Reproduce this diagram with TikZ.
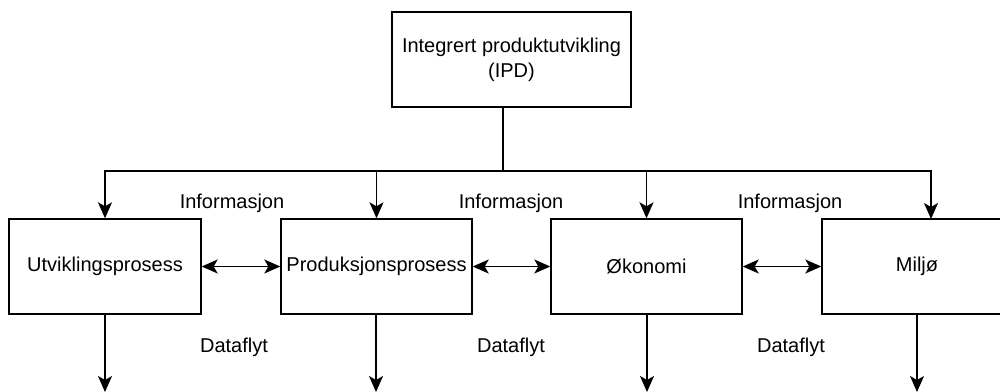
\documentclass[tikz,border=0pt]{standalone}
\usepackage{fontspec}
\setmainfont{Liberation Sans}
\usetikzlibrary{arrows.meta}
\tikzset{
  tipk/.tip={Stealth[length=16pt,width=14pt,inset=4pt]},
}
\begin{document}
\begin{tikzpicture}[x=1pt,y=-1pt,
  every node/.style={font=\fontsize{20}{25}\selectfont},
  box/.style={draw, line width=1.4pt, rectangle, minimum height=95pt, inner sep=0pt, align=center},
  link/.style={line width=1.4pt, -tipk},
  both/.style={line width=1.4pt, tipk-tipk},
  lbl/.style={inner sep=0pt}]
\useasboundingbox (0,0) rectangle (1000,391);
\clip (0,0) rectangle (1000,391);
\fill[white] (0,0) rectangle (1000,391);

% top-level box
\node[box, minimum width=239pt] (ipd) at (511.5,59.5) {Integrert produktutvikling\\(IPD)};

% process boxes
\node[box, minimum width=192pt] (b1) at (105,266.5) {Utviklingsprosess};
\node[box, minimum width=191pt] (b2) at (376.5,266.5) {Produksjonsprosess};
\node[box, minimum width=191pt] (b3) at (646.5,266.5) {Økonomi};
\node[box, minimum width=190pt] (b4) at (917,266.5) {Miljø};

% distribution bus from the top box
\coordinate (hub) at (503,171);
\coordinate (in4) at (931,219);
\draw[line width=1.4pt] (ipd.south -| hub) -- (hub);
\draw[link] (hub) -| (b1.north);
\draw[link] (hub) -| (b2.north);
\draw[link] (hub) -| (b3.north);
\draw[link] (hub) -| (in4);

% information exchange between neighbours
\draw[both] (b1.east) -- (b2.west);
\draw[both] (b2.east) -- (b3.west);
\draw[both] (b3.east) -- (b4.west);

% outgoing data flow
\coordinate (o1) at (105,392);
\coordinate (o2) at (376,392);
\coordinate (o3) at (647,392);
\coordinate (o4) at (917,392);
\draw[link] (b1.south -| o1) -- (o1);
\draw[link] (b2.south -| o2) -- (o2);
\draw[link] (b3.south -| o3) -- (o3);
\draw[link] (b4.south -| o4) -- (o4);

% labels
\node[lbl] (i1) at (232,203) {Informasjon};
\node[lbl] (i2) at (511,203) {Informasjon};
\node[lbl] (i3) at (790,203) {Informasjon};
\node[lbl] (d1) at (234,347) {Dataflyt};
\node[lbl] (d2) at (511,347) {Dataflyt};
\node[lbl] (d3) at (791,347) {Dataflyt};
\end{tikzpicture}
\end{document}
